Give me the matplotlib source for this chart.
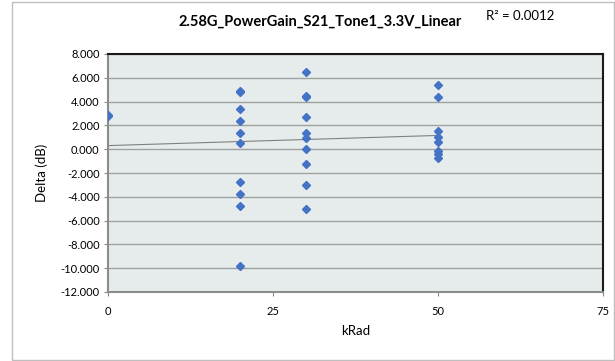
import numpy as np
import matplotlib
matplotlib.use("Agg")
import matplotlib.pyplot as plt
from matplotlib.patches import Rectangle

# ---- data ----
krad = [0, 0,
        20, 20, 20, 20, 20, 20, 20, 20, 20, 20,
        30, 30, 30, 30, 30, 30, 30, 30, 30, 30,
        50, 50, 50, 50, 50, 50, 50, 50]
delta = [2.90, 2.75,
         4.92, 4.78, 3.41, 2.34, 1.36, 0.49, -2.76, -3.80, -4.80, -9.80,
         6.46, 4.50, 4.35, 2.71, 1.39, 0.91, -0.01, -1.27, -3.00, -5.03,
         5.42, 4.36, 1.56, 1.05, 0.63, -0.15, -0.43, -0.77]
title = "2.58G_PowerGain_S21_Tone1_3.3V_Linear"
r2_text = "R² = 0.0012"
y_ticks = [8, 6, 4, 2, 0, -2, -4, -6, -8, -10, -12]
x_ticks = [0, 25, 50, 75]

plt.rcParams['font.family'] = ['Lato', 'DejaVu Sans']

W, H = 615, 361
fig = plt.figure(figsize=(W / 100, H / 100), dpi=100)

# outer chart border
fig.patches.append(Rectangle((12 / W, 1 / H), (W - 13) / W, (H - 3) / H,
                             transform=fig.transFigure, fill=False,
                             edgecolor="#BFBFBF", linewidth=1.0))

left, right, top, bottom = 108, 603, 54, 292
ax = fig.add_axes([left / W, 1 - bottom / H, (right - left) / W, (bottom - top) / H])
ax.set_facecolor("#E6ECEC")
ax.set_xlim(0, 75)
ax.set_ylim(-12, 8)
ax.set_yticks(y_ticks)
ax.set_yticklabels([f"{v:.3f}" for v in y_ticks])
ax.set_xticks(x_ticks)
ax.tick_params(axis='both', labelsize=8, length=3, color="#888888", pad=3)
ax.tick_params(axis='x', pad=7)
ax.grid(axis='y', color="#A0A0A0", linewidth=1.0)
ax.set_axisbelow(True)

for s in ['top', 'right']:
    ax.spines[s].set_color("#1A1A1A")
    ax.spines[s].set_linewidth(1.5)
for s in ['left', 'bottom']:
    ax.spines[s].set_color("#8C8C8C")
    ax.spines[s].set_linewidth(1.5)

# linear trendline
x = np.array(krad, dtype=float)
y = np.array(delta, dtype=float)
slope, intercept = np.polyfit(x, y, 1)
xt = np.linspace(x.min(), x.max(), 50)
ax.plot(xt, intercept + slope * xt, color="#808080", linewidth=0.8, zorder=2)

ax.plot(krad, delta, linestyle='none', marker='D', markersize=4.5,
        color="#4472C4", markeredgecolor="#4472C4", zorder=3)

ax.set_xlabel("kRad", fontsize=9.5, labelpad=6)
ax.set_ylabel("Delta (dB)", fontsize=9.5, labelpad=9)

fig.text(320 / W, 1 - 22 / H, title, fontsize=10.5, fontweight='bold',
         ha='center', va='center')
fig.text(520 / W, 1 - 16 / H, r2_text, fontsize=9.5, ha='center', va='center')

fig.savefig("out.png", dpi=100)
